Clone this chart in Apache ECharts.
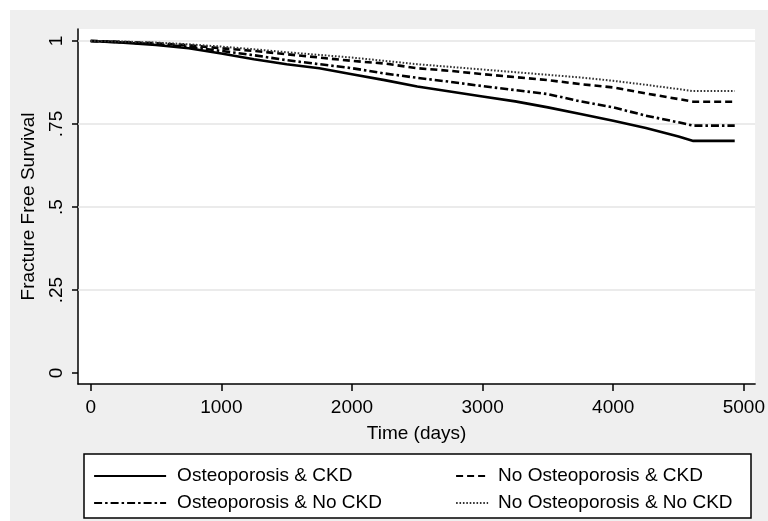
<!DOCTYPE html>
<html>
<head>
<meta charset="utf-8">
<script src="https://cdn.jsdelivr.net/npm/echarts@6/dist/echarts.min.js"></script>
<style>
html,body{margin:0;padding:0;background:#fff;}
#chart{width:768px;height:521px;}
</style>
</head>
<body>
<div id="chart"></div>
<script>
// Time points (days)
var timeDays = [0, 250, 500, 750, 1000, 1250, 1500, 1750, 2000, 2250, 2500, 2750, 3000, 3250, 3500, 3750, 4000, 4250, 4500, 4613, 4930];

// Survival estimates per group
var osteoCKD      = [1.000, 0.995, 0.988, 0.978, 0.962, 0.945, 0.930, 0.918, 0.900, 0.882, 0.863, 0.848, 0.833, 0.818, 0.800, 0.780, 0.760, 0.738, 0.712, 0.699, 0.699];
var noOsteoCKD    = [1.000, 0.997, 0.993, 0.987, 0.978, 0.970, 0.960, 0.950, 0.940, 0.932, 0.918, 0.910, 0.900, 0.891, 0.882, 0.870, 0.860, 0.842, 0.825, 0.817, 0.817];
var osteoNoCKD    = [1.000, 0.996, 0.990, 0.982, 0.970, 0.957, 0.942, 0.930, 0.918, 0.902, 0.889, 0.877, 0.864, 0.852, 0.840, 0.818, 0.800, 0.775, 0.755, 0.745, 0.745];
var noOsteoNoCKD  = [1.000, 0.998, 0.995, 0.990, 0.983, 0.975, 0.966, 0.958, 0.950, 0.940, 0.930, 0.922, 0.914, 0.906, 0.898, 0.890, 0.880, 0.868, 0.855, 0.849, 0.849];

var seriesNames = ["Osteoporosis & CKD", "No Osteoporosis & CKD", "Osteoporosis & No CKD", "No Osteoporosis & No CKD"];

// Axis ticks
var xTickValues = [0, 1000, 2000, 3000, 4000, 5000];
var yTickValues = [0, 0.25, 0.5, 0.75, 1];
var yTickLabels = ["0", ".25", ".5", ".75", "1"];
var yGridValues = [0.25, 0.5, 0.75, 1];

function pairs(vals) {
  return timeDays.map(function (t, i) { return [t, vals[i]]; });
}

var FONT = '"Liberation Sans", Arial, Helvetica, sans-serif';
var chart = echarts.init(document.getElementById('chart'), null, {renderer: 'canvas'});

var legendCommon = {
  orient: 'vertical',
  top: 466,
  itemHeight: 14, itemGap: 7,
  padding: 0,
  itemStyle: {opacity: 0},
  lineStyle: {width: 2.2},
  selectedMode: false
};

var option = {
  animation: false,
  backgroundColor: '#ffffff',
  textStyle: {fontFamily: FONT},
  graphic: [
    {type: 'rect', z: -10, shape: {x: 10, y: 10, width: 758, height: 511}, style: {fill: '#efefef'}},
    {type: 'rect', z: 0, shape: {x: 84, y: 454, width: 667, height: 64}, style: {fill: '#ffffff', stroke: '#000', lineWidth: 1.5}}
  ],
  grid: {
    left: 78, right: 11, top: 29, bottom: 137,
    show: true, backgroundColor: '#ffffff', borderWidth: 0
  },
  xAxis: {
    type: 'value',
    min: -97, max: 5086,
    name: 'Time (days)',
    nameLocation: 'middle',
    nameGap: 40,
    nameTextStyle: {fontSize: 19, color: '#000', fontFamily: FONT},
    axisLine: {show: true, onZero: false, lineStyle: {color: '#000', width: 1.5}},
    axisTick: {show: true, length: 7, inside: false, customValues: xTickValues, lineStyle: {color: '#000', width: 1.5}},
    axisLabel: {
      show: true, customValues: xTickValues, fontSize: 19, color: '#000', margin: 14, fontFamily: FONT,
      formatter: function (v) { return String(Math.round(v)); }
    },
    splitLine: {show: false}
  },
  yAxis: {
    type: 'value',
    min: -0.033, max: 1.036,
    name: 'Fracture Free Survival',
    nameLocation: 'middle',
    nameGap: 40,
    nameTextStyle: {fontSize: 19, color: '#000', fontFamily: FONT},
    axisLine: {show: true, onZero: false, lineStyle: {color: '#000', width: 1.5}},
    axisTick: {show: true, length: 6, customValues: yTickValues, lineStyle: {color: '#000', width: 1.5}},
    axisLabel: {
      show: true, customValues: yTickValues, rotate: 90, fontSize: 19, color: '#000', margin: 12, fontFamily: FONT,
      formatter: function (v) {
        for (var i = 0; i < yTickValues.length; i++) {
          if (Math.abs(yTickValues[i] - v) < 1e-6) return yTickLabels[i];
        }
        return '';
      }
    },
    splitLine: {show: false}
  },
  legend: [
    Object.assign({}, legendCommon, {
      data: [seriesNames[0], seriesNames[2]],
      left: 93,
      itemWidth: 72,
      textStyle: {fontSize: 19, color: '#000', fontFamily: FONT, lineHeight: 20, padding: [0, 0, 0, 6]}
    }),
    Object.assign({}, legendCommon, {
      data: [seriesNames[1], seriesNames[3]],
      left: 455,
      itemWidth: 32,
      textStyle: {fontSize: 19, color: '#000', fontFamily: FONT, lineHeight: 20, padding: [0, 0, 0, 5]}
    })
  ],
  series: [
    {
      name: seriesNames[0], type: 'line', data: pairs(osteoCKD),
      showSymbol: false, symbol: 'none', z: 5,
      lineStyle: {color: '#000', width: 2.6, type: 'solid'},
      itemStyle: {color: '#000'},
      markLine: {
        silent: true, symbol: 'none', label: {show: false}, z: 1,
        lineStyle: {color: '#e4e4e4', width: 1.5, type: 'solid'},
        data: yGridValues.map(function (v) { return {yAxis: v}; })
      }
    },
    {
      name: seriesNames[1], type: 'line', data: pairs(noOsteoCKD),
      showSymbol: false, symbol: 'none', z: 5,
      lineStyle: {color: '#000', width: 2.6, type: [7, 4]},
      itemStyle: {color: '#000'}
    },
    {
      name: seriesNames[2], type: 'line', data: pairs(osteoNoCKD),
      showSymbol: false, symbol: 'none', z: 5,
      lineStyle: {color: '#000', width: 2.6, type: [8, 3, 2.5, 3]},
      itemStyle: {color: '#000'}
    },
    {
      name: seriesNames[3], type: 'line', data: pairs(noOsteoNoCKD),
      showSymbol: false, symbol: 'none', z: 5,
      lineStyle: {color: '#333', width: 2, type: [1.6, 1.8]},
      itemStyle: {color: '#333'}
    }
  ]
};
chart.setOption(option);
</script>
</body>
</html>
